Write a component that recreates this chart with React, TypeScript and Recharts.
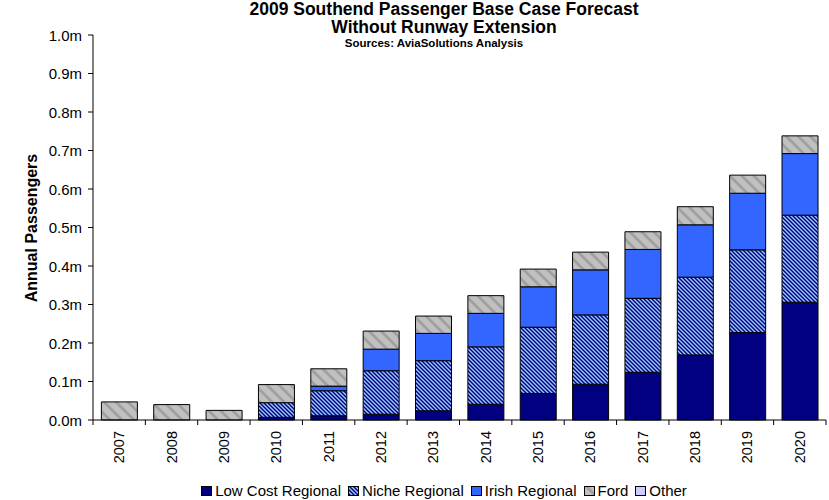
import React from 'react';
import { BarChart, Bar, XAxis, YAxis } from 'recharts';

// Categories and series (annual passengers)
const years = ['2007', '2008', '2009', '2010', '2011', '2012', '2013', '2014', '2015', '2016', '2017', '2018', '2019', '2020'];
const lowCostRegional = [0, 0, 0, 7000, 11000, 15000, 24000, 41000, 69000, 93000, 124000, 169000, 227000, 306000];
const nicheRegional = [0, 0, 0, 38000, 65000, 113000, 130000, 149000, 172000, 180000, 192000, 202000, 215000, 226000];
const irishRegional = [0, 0, 0, 0, 12000, 56000, 71000, 87000, 105000, 117000, 127000, 136000, 147000, 160000];
const ford = [47000, 40000, 25000, 47000, 45000, 47000, 45000, 46000, 46000, 46000, 46000, 47000, 47000, 46000];
const other = [0, 0, 0, 0, 0, 0, 0, 0, 0, 0, 0, 0, 0, 0];
const yTicks = [0, 100000, 200000, 300000, 400000, 500000, 600000, 700000, 800000, 900000, 1000000];

const data = years.map((year, i) => ({
  year,
  lowCost: lowCostRegional[i],
  niche: nicheRegional[i],
  irish: irishRegional[i],
  ford: ford[i],
  other: other[i],
}));

const W = 829;
const H = 500;
const FONT = '"Liberation Sans", Arial, Helvetica, sans-serif';
const MARGIN = { top: 35, right: 3, bottom: 50, left: 0 };
const Y_AXIS_W = 93;
const X_AXIS_H = 30;
const PLOT_W = W - MARGIN.left - MARGIN.right - Y_AXIS_W;
const BAND = PLOT_W / years.length;
const CX = 444;

const C_LOW = '#000080';
const C_NICHE_DARK = '#000080';
const C_NICHE_LIGHT = '#99CCFF';
const C_IRISH = '#3366FF';
const C_FORD = '#C0C0C0';
const C_FORD_STRIPE = '#A0A0A0';
const C_OTHER = '#CCCCFF';

function PatternDefs({ prefix }: { prefix: string }) {
  return (
    <defs>
      <pattern id={`${prefix}niche`} width={4} height={4} patternUnits="userSpaceOnUse">
        <rect width={4} height={4} fill={C_NICHE_LIGHT} />
        <polygon points="0,0 2,0 4,2 4,4" fill={C_NICHE_DARK} />
        <polygon points="0,2 2,4 0,4" fill={C_NICHE_DARK} />
      </pattern>
      <pattern id={`${prefix}ford`} width={12} height={12} patternUnits="userSpaceOnUse">
        <rect width={12} height={12} fill={C_FORD} />
        <polygon points="0,0 4,0 12,8 12,12" fill={C_FORD_STRIPE} />
        <polygon points="0,8 4,12 0,12" fill={C_FORD_STRIPE} />
      </pattern>
    </defs>
  );
}

function ValueTick(props: any) {
  const { x, y, payload } = props;
  return (
    <text x={x} y={y} textAnchor="end" dominantBaseline="central" fontSize={15} fontFamily={FONT} fill="#000">
      {`${(payload.value / 1000000).toFixed(1)}m`}
    </text>
  );
}

function YearTick(props: any) {
  const { x, y, payload, index } = props;
  const left = x - BAND / 2;
  const right = x + BAND / 2;
  return (
    <g>
      <line x1={left} y1={y} x2={left} y2={y + 5} stroke="#000" />
      {index === years.length - 1 && <line x1={right} y1={y} x2={right} y2={y + 5} stroke="#000" />}
      <text
        transform={`translate(${x},${y + 11}) rotate(-90)`}
        textAnchor="end"
        dominantBaseline="central"
        fontSize={14.5}
        fontFamily={FONT}
        fill="#000"
      >
        {payload.value}
      </text>
    </g>
  );
}

const legendItems = [
  { label: 'Low Cost Regional', fill: C_LOW },
  { label: 'Niche Regional', fill: 'url(#lg-niche)' },
  { label: 'Irish Regional', fill: C_IRISH },
  { label: 'Ford', fill: 'url(#lg-ford)' },
  { label: 'Other', fill: C_OTHER },
];

function Legend() {
  return (
    <div
      style={{
        position: 'absolute',
        left: CX - 350,
        top: 482,
        width: 700,
        display: 'flex',
        justifyContent: 'center',
        alignItems: 'center',
        fontFamily: FONT,
        fontSize: 15,
        color: '#000',
        lineHeight: '18px',
        whiteSpace: 'nowrap',
      }}
    >
      <svg width={0} height={0} style={{ position: 'absolute' }}>
        <PatternDefs prefix="lg-" />
      </svg>
      {legendItems.map((it, i) => (
        <div key={it.label} style={{ display: 'flex', alignItems: 'center', marginLeft: i === 0 ? 0 : 7 }}>
          <svg width={11} height={10} style={{ marginRight: 3 }}>
            <rect x={0.5} y={0.5} width={10} height={9} fill={it.fill} stroke="#000" strokeWidth={1} />
          </svg>
          <span>{it.label}</span>
        </div>
      ))}
    </div>
  );
}

export default function App() {
  return (
    <div style={{ position: 'absolute', left: 0, top: 0, width: W, height: H, background: '#fff' }}>
      <BarChart width={W} height={H} data={data} margin={MARGIN} barCategoryGap="16%">
        <PatternDefs prefix="" />
        <YAxis
          width={Y_AXIS_W}
          domain={[0, 1000000]}
          ticks={yTicks}
          interval={0}
          tick={<ValueTick />}
          tickSize={5}
          tickMargin={6}
          stroke="#000"
          axisLine={{ stroke: '#000' }}
          tickLine={{ stroke: '#000' }}
        />
        <XAxis
          dataKey="year"
          height={X_AXIS_H}
          interval={0}
          tickLine={false}
          tickSize={0}
          tickMargin={0}
          tick={<YearTick />}
          stroke="#000"
          axisLine={{ stroke: '#000' }}
        />
        <Bar dataKey="lowCost" stackId="a" fill={C_LOW} stroke="#000" strokeWidth={1} isAnimationActive={false} />
        <Bar dataKey="niche" stackId="a" fill="url(#niche)" stroke="#000" strokeWidth={1} isAnimationActive={false} />
        <Bar dataKey="irish" stackId="a" fill={C_IRISH} stroke="#000" strokeWidth={1} isAnimationActive={false} />
        <Bar dataKey="ford" stackId="a" fill="url(#ford)" stroke="#000" strokeWidth={1} isAnimationActive={false} />
        <Bar dataKey="other" stackId="a" fill={C_OTHER} stroke="#000" strokeWidth={1} isAnimationActive={false} />
      </BarChart>
      <svg width={W} height={H} style={{ position: 'absolute', left: 0, top: 0, pointerEvents: 'none' }}>
        <g fontFamily={FONT} fontWeight="bold" fill="#000" textAnchor="middle">
          <text x={CX} y={15} fontSize={17.5}>2009 Southend Passenger Base Case Forecast</text>
          <text x={CX} y={33} fontSize={17.5}>Without Runway Extension</text>
          <text x={CX - 10} y={46.5} fontSize={11.5}>Sources: AviaSolutions Analysis</text>
          <text transform="translate(37,228) rotate(-90)" fontSize={16}>Annual Passengers</text>
        </g>
      </svg>
      <Legend />
    </div>
  );
}
